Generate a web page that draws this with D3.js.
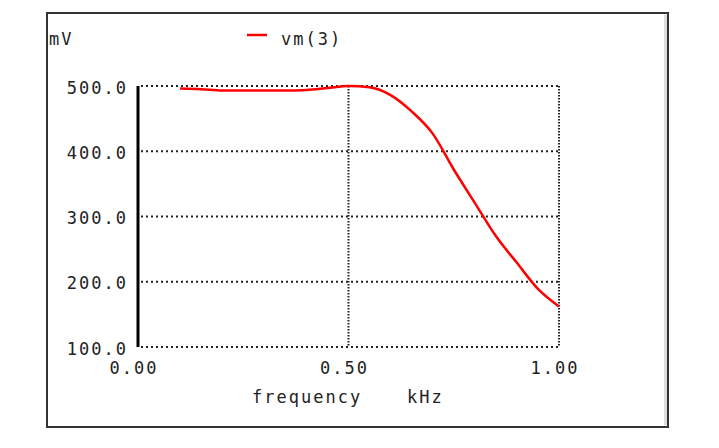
<!DOCTYPE html>
<html>
<head>
<meta charset="utf-8">
<script src="https://cdn.jsdelivr.net/npm/d3@7"></script>
<style>
body { margin:0; background:#fff; }
text { font-family:"DejaVu Sans Mono", monospace; font-size:17px; letter-spacing:2px; fill:#222; }
</style>
</head>
<body>
<svg id="chart"></svg>
<script>
// data
var freq = [0.10,0.15,0.20,0.25,0.30,0.35,0.40,0.45,0.50,0.55,0.60,0.65,0.70,0.75,0.80,0.85,0.90,0.95,1.00]
var vm3 = [496,495,493,493,493,493,494,497,500,498,486,461,427,372,321,270,229,189,162]
var xTicks = [0, 0.5, 1.0]
var yTicks = [100, 200, 300, 400, 500]

var screen = {width:719, height:448}

var svg = d3.select("#chart")
    .attr("width",screen.width)
    .attr("height",screen.height)

var xScale = d3.scaleLinear()
    .domain([0,1])
    .range([138,559])

var yScale = d3.scaleLinear()
    .domain([100,500])
    .range([347,86])

//frame
svg.append("line")
    .attr("x1",665.5).attr("x2",665.5)
    .attr("y1",15).attr("y2",425)
    .attr("stroke","#ddd").attr("stroke-width",3)
svg.append("rect")
    .attr("x",47).attr("y",13)
    .attr("width",621).attr("height",414)
    .attr("fill","none")
    .attr("stroke","#333")
    .attr("stroke-width",2)

//horizontal grid
svg.append("g")
    .selectAll("line")
    .data(yTicks)
    .enter()
    .append("line")
    .attr("x1",xScale(0)+3)
    .attr("x2",xScale(1))
    .attr("y1",function(d){ return yScale(d) })
    .attr("y2",function(d){ return yScale(d) })
    .attr("stroke","#222")
    .attr("stroke-width",2)
    .attr("stroke-dasharray","2,3")

//vertical grid
svg.append("g")
    .selectAll("line")
    .data(xTicks.slice(1))
    .enter()
    .append("line")
    .attr("x1",function(d){ return xScale(d) })
    .attr("x2",function(d){ return xScale(d) })
    .attr("y1",yScale(500))
    .attr("y2",yScale(100))
    .attr("stroke","#222")
    .attr("stroke-width",2)
    .attr("stroke-dasharray","1.5,1.5")

//y axis bar
svg.append("line")
    .attr("x1",xScale(0)).attr("x2",xScale(0))
    .attr("y1",yScale(500)).attr("y2",yScale(100))
    .attr("stroke","#000")
    .attr("stroke-width",3)

//tick labels
svg.append("g")
    .selectAll("text")
    .data(yTicks)
    .enter()
    .append("text")
    .attr("x",128)
    .attr("y",function(d){ return yScale(d)+7.5 })
    .attr("text-anchor","end")
    .text(function(d){ return d3.format(".1f")(d) })

svg.append("g")
    .selectAll("text")
    .data(xTicks)
    .enter()
    .append("text")
    .attr("x",function(d){ return xScale(d)-4 })
    .attr("y",374)
    .attr("text-anchor","middle")
    .text(function(d){ return d3.format(".2f")(d) })

//titles
svg.append("text").attr("x",49).attr("y",45).text("mV")
svg.append("text").attr("x",252).attr("y",403).text("frequency")
svg.append("text").attr("x",407).attr("y",403).text("kHz")

//legend
svg.append("line")
    .attr("x1",247).attr("x2",267)
    .attr("y1",35).attr("y2",35)
    .attr("stroke","#f00").attr("stroke-width",2.5)
svg.append("text").attr("x",281).attr("y",45).text("vm(3)")

//curve
var line = d3.line()
    .x(function(d,i){ return xScale(freq[i]) })
    .y(function(d){ return yScale(d) })
    .curve(d3.curveMonotoneX)

svg.append("path")
    .datum(vm3)
    .attr("d",line)
    .attr("fill","none")
    .attr("stroke","#f00")
    .attr("stroke-width",2.5)
</script>
</body>
</html>
